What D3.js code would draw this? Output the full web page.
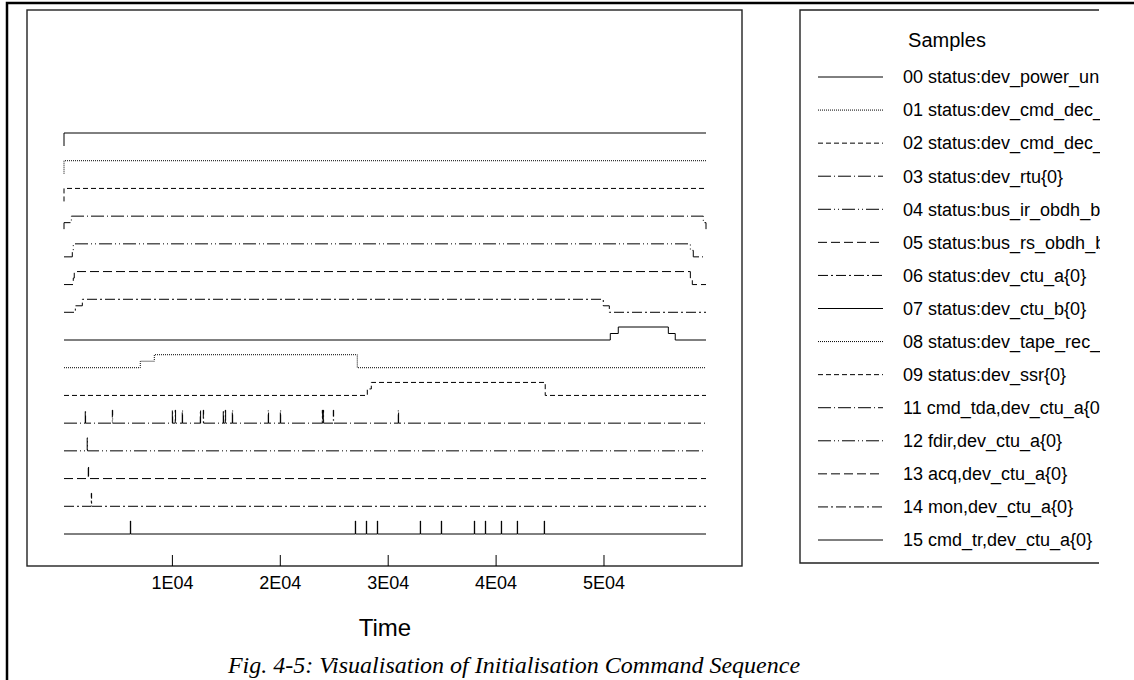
<!DOCTYPE html>
<html>
<head>
<meta charset="utf-8">
<script src="https://cdn.jsdelivr.net/npm/d3@7"></script>
<style>
  body { margin: 0; background: #fff; }
  svg { display: block; }
</style>
</head>
<body>
<div id="chart"></div>
<script>
// sample names as shown in the legend (cut at the right edge)
const sampleNames = [
  "00 status:dev_power_un", "01 status:dev_cmd_dec_", "02 status:dev_cmd_dec_",
  "03 status:dev_rtu{0}", "04 status:bus_ir_obdh_b", "05 status:bus_rs_obdh_b",
  "06 status:dev_ctu_a{0}", "07 status:dev_ctu_b{0}", "08 status:dev_tape_rec_",
  "09 status:dev_ssr{0}", "11 cmd_tda,dev_ctu_a{0", "12 fdir,dev_ctu_a{0}",
  "13 acq,dev_ctu_a{0}", "14 mon,dev_ctu_a{0}", "15 cmd_tr,dev_ctu_a{0}"
];

// step traces: [time, level]
const tEnd = 59500;
const s00 = [[0, 0], [0, 2], [tEnd, 2]];
const s01 = [[0, 0], [0, 2], [tEnd, 2]];
const s02 = [[0, 0], [0, 2], [tEnd, 2]];
const s03 = [[0, 0], [0, 1], [680, 2], [59250, 1], [tEnd, 0]];
const s04 = [[0, 0], [770, 1], [860, 2], [58050, 1], [58320, 0], [tEnd, 0]];
const s05 = [[0, 0], [860, 1], [950, 2], [58050, 1], [58230, 0], [tEnd, 0]];
const s06 = [[0, 0], [1050, 1], [1700, 2], [49980, 1], [50540, 0], [tEnd, 0]];
const s07 = [[0, 0], [50630, 1], [51370, 2], [56010, 1], [56650, 0], [tEnd, 0]];
const s08 = [[0, 0], [7070, 1], [8370, 2], [27180, 0], [tEnd, 0]];
const s09 = [[0, 0], [28110, 1], [28480, 2], [44600, 0], [tEnd, 0]];

// command events (impulses)
const e11 = [1970, 4480, 10040, 10310, 10960, 12630, 12910, 14760, 14950, 15600,
             18930, 20050, 23940, 24030, 24960, 30980];
const e12 = [2150];
const e13 = [2250];
const e14 = [2530];
const e15 = [6150, 27000, 28020, 29040, 33020, 34970, 38030, 39050, 40530, 42010, 44510];

const tickValues = [10000, 20000, 30000, 40000, 50000];
const tickLabels = ["1E04", "2E04", "3E04", "4E04", "5E04"];

const dashes = ["none", "1,1", "5,3", "13,3,1,3", "13,3,1,3,1,3", "9,4", "10,3,2,3"];

function pulses(times) {
  const pts = [[0, 0]];
  times.forEach(t => { pts.push([t, 0], [t, 2], [t + 30, 0]); });
  pts.push([tEnd, 0]);
  return pts;
}

const traces = [s00, s01, s02, s03, s04, s05, s06, s07, s08, s09,
  pulses(e11), pulses(e12), pulses(e13), pulses(e14), pulses(e15)];

const W = 1134, H = 680;
const svg = d3.select("#chart").append("svg")
  .attr("width", W).attr("height", H);

// page frame
svg.append("path")
  .attr("d", `M7,${H} V3 H${W}`)
  .attr("fill", "none").attr("stroke", "#000").attr("stroke-width", 2.5);

const box = { left: 27, top: 10, right: 742, bottom: 566 };

svg.append("rect")
  .attr("x", box.left).attr("y", box.top)
  .attr("width", box.right - box.left).attr("height", box.bottom - box.top)
  .attr("fill", "none").attr("stroke", "#222").attr("stroke-width", 1.4);

const x = d3.scaleLinear().domain([0, tEnd]).range([64, 706]);
const row = d3.scaleLinear().domain([0, 14]).range([146, 534]);
const lvl = d3.scaleLinear().domain([0, 2]).range([0, -13]);

const line = d3.line().curve(d3.curveStepAfter);

svg.append("g").selectAll("path")
  .data(traces)
  .join("path")
  .attr("d", (d, i) => line(d.map(p => [x(p[0]), row(i) + lvl(p[1])])))
  .attr("fill", "none")
  .attr("stroke", "#000")
  .attr("stroke-width", 1)
  .attr("stroke-dasharray", (d, i) => dashes[i % 7]);

// x axis, ticks pointing up from the box bottom
const axis = svg.append("g")
  .attr("transform", `translate(0,${box.bottom})`)
  .call(d3.axisBottom(x).tickValues(tickValues)
    .tickFormat((d, i) => tickLabels[i])
    .tickSize(-11).tickPadding(10));
axis.select(".domain").remove();
axis.selectAll(".tick line").attr("stroke", "#000");
axis.selectAll(".tick text")
  .attr("font-family", "Liberation Sans, Arial, sans-serif")
  .attr("font-size", 18).attr("fill", "#000");

svg.append("text")
  .attr("x", 385).attr("y", 636)
  .attr("text-anchor", "middle")
  .attr("font-family", "Liberation Sans, Arial, sans-serif")
  .attr("font-size", 24)
  .text("Time");

// legend
const leg = { left: 800, top: 10, right: 1099, bottom: 563 };
svg.append("path")
  .attr("d", `M${leg.right},${leg.top} H${leg.left} V${leg.bottom} H${leg.right}`)
  .attr("fill", "none").attr("stroke", "#222").attr("stroke-width", 1.4);

svg.append("defs").append("clipPath").attr("id", "legclip")
  .append("rect").attr("x", leg.left).attr("y", leg.top)
  .attr("width", leg.right + 1 - leg.left).attr("height", leg.bottom - leg.top);

svg.append("text")
  .attr("x", 947).attr("y", 47)
  .attr("text-anchor", "middle")
  .attr("font-family", "Liberation Sans, Arial, sans-serif")
  .attr("font-size", 20)
  .text("Samples");

const ly = d3.scaleLinear().domain([0, 14]).range([77, 540]);
const items = svg.append("g").attr("clip-path", "url(#legclip)")
  .selectAll("g").data(sampleNames).join("g")
  .attr("transform", (d, i) => `translate(0,${ly(i)})`);

items.append("line")
  .attr("x1", 818).attr("x2", 883)
  .attr("stroke", "#000").attr("stroke-width", 1)
  .attr("stroke-dasharray", (d, i) => dashes[i % 7]);

items.append("text")
  .attr("x", 903).attr("dy", "0.35em")
  .attr("font-family", "Liberation Sans, Arial, sans-serif")
  .attr("font-size", 18)
  .text(d => d);

// caption
svg.append("text")
  .attr("x", 514).attr("y", 673)
  .attr("text-anchor", "middle")
  .attr("font-family", "Liberation Serif, Times New Roman, serif")
  .attr("font-style", "italic")
  .attr("font-size", 24)
  .text("Fig. 4-5: Visualisation of Initialisation Command Sequence");
</script>
</body>
</html>
